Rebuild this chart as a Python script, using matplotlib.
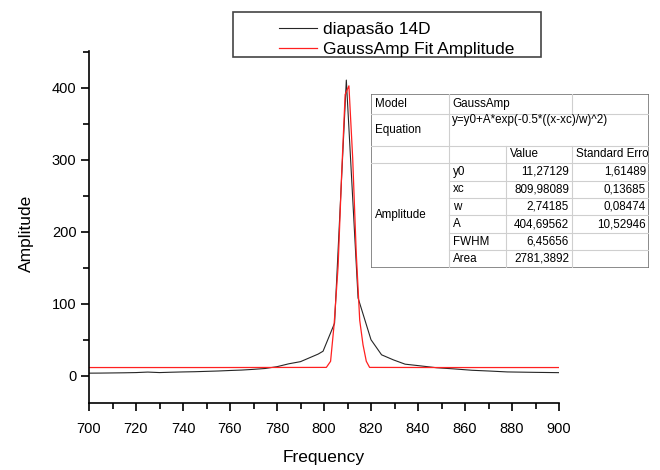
import matplotlib
matplotlib.use("Agg")
import matplotlib.pyplot as plt
from matplotlib.patches import Rectangle
from matplotlib.ticker import MultipleLocator

plt.rcParams['font.family'] = ['Liberation Sans', 'DejaVu Sans']

# Measured data (diapasão 14D)
freq = [700, 705, 710, 715, 720, 725, 730, 735, 740, 745, 750, 755, 760, 765,
        770, 775, 780, 785, 790, 797.5, 799.6, 804.5, 809.5, 814.5, 820, 824.5,
        829.5, 834.5, 840, 848, 855, 863, 870, 878, 890, 900]
amp = [3.5, 3.6, 3.8, 4.0, 4.3, 5.0, 4.3, 4.8, 5.2, 5.5, 6.0, 6.5, 7.2, 7.8,
       8.8, 10.0, 12.5, 16.5, 19.5, 30, 34, 73, 411, 108, 50, 29,
       22, 16, 14, 11, 9.5, 7.5, 6.5, 5.2, 4.6, 4.2]

# GaussAmp fit curve
fit_x = [700, 750, 801, 802.8, 804.3, 806, 807.5, 809, 810.6, 812.2, 813.7,
         815.2, 816.6, 818, 819.4, 850, 900]
fit_y = [11.3, 11.3, 11.5, 20, 71, 152, 280, 391, 403, 303, 172,
         77, 43, 20, 11.5, 11.3, 11.3]

labels = ['diapasão 14D', 'GaussAmp Fit Amplitude']

# Fit result table
param_names = ['y0', 'xc', 'w', 'A', 'FWHM', 'Area']
param_values = ['11,27129', '809,98089', '2,74185', '404,69562', '6,45656', '2781,3892']
param_errors = ['1,61489', '0,13685', '0,08474', '10,52946', '', '']
model_name = 'GaussAmp'
equation = 'y=y0+A*exp(-0.5*((x-xc)/w)^2)'

W, H = 660, 470
fig = plt.figure(figsize=(6.6, 4.7), dpi=100)
ax = fig.add_axes([89 / W, 1 - 403 / H, 470 / W, (403 - 50.6) / H])

ax.plot(freq, amp, color='#262626', lw=0.8)
ax.plot(fit_x, fit_y, color='#ff2020', lw=0.9)

ax.set_xlim(700, 900)
ax.set_ylim(-38, 452)
ax.xaxis.set_major_locator(MultipleLocator(20))
ax.xaxis.set_minor_locator(MultipleLocator(10))
ax.yaxis.set_major_locator(MultipleLocator(100))
ax.yaxis.set_minor_locator(MultipleLocator(50))
for s in ['top', 'right']:
    ax.spines[s].set_visible(False)
for s in ['left', 'bottom']:
    ax.spines[s].set_linewidth(1.2)
ax.tick_params(which='major', direction='out', length=6, width=1.2, labelsize=10.5)
ax.tick_params(which='minor', direction='out', length=4, width=1.2)
ax.tick_params(axis='x', pad=8)
ax.tick_params(axis='y', pad=3)

ax.set_xlabel('Frequency', fontsize=12.5, va='top')
ax.set_ylabel('Amplitude', fontsize=12.5)
ax.xaxis.set_label_coords(0.5, -0.133)
ax.yaxis.set_label_coords(-0.118, 0.48)

# Legend
fig.patches.append(Rectangle((233 / W, 1 - 57 / H), 308 / W, 45 / H,
                             transform=fig.transFigure, fill=False,
                             edgecolor='#444444', lw=1.2))
lines = ax.get_lines()
fig.legend(lines, labels, loc='upper left', bbox_to_anchor=(279 / W, 1 - 22 / H),
           frameon=False, fontsize=12.5, handlelength=2.2, handletextpad=0.35,
           borderpad=0, borderaxespad=0, labelspacing=0.26)

# Table drawn in pixel coordinates of its own axes
tl, tt, tr, tb = 371, 94.3, 649, 267.7
tax = fig.add_axes([tl / W, 1 - tb / H, (tr - tl) / W, (tb - tt) / H])
tax.set_xlim(tl, tr)
tax.set_ylim(tb, tt)
tax.axis('off')
tax.add_patch(Rectangle((tl, tt), tr - tl, tb - tt, facecolor='white',
                        edgecolor='#777777', lw=1.2, zorder=3))
c1, c2, c3 = 449, 506, 572
r_model, r_eq, r_head = 114.3, 145.7, 163.3
row_h = (tb - r_head) / len(param_names)
light = '#cfcfcf'
tax.plot([tl, tr], [r_model, r_model], color=light, lw=0.8, zorder=4)
tax.plot([tl, tr], [r_eq, r_eq], color=light, lw=0.8, zorder=4)
tax.plot([tl, tr], [r_head, r_head], color=light, lw=0.8, zorder=4)
for i in range(1, len(param_names)):
    y = r_head + i * row_h
    tax.plot([c1, tr], [y, y], color=light, lw=0.8, zorder=4)
tax.plot([c1, c1], [tt, tb], color=light, lw=0.8, zorder=4)
tax.plot([c3, c3], [tt, r_model], color=light, lw=0.8, zorder=4)
tax.plot([c2, c2], [r_eq, tb], color=light, lw=0.8, zorder=4)
tax.plot([c3, c3], [r_eq, tb], color=light, lw=0.8, zorder=4)

fs = 8.4
kw = dict(fontsize=fs, zorder=5, va='center')
tax.text(tl + 4, (tt + r_model) / 2, 'Model', ha='left', **kw)
tax.text(c1 + 3, (tt + r_model) / 2, model_name, ha='left', **kw)
tax.text(tl + 4, (r_model + r_eq) / 2, 'Equation', ha='left', **kw)
tax.text(c1 + 3, r_model + 6, equation, ha='left', **kw)
tax.text(c2 + 4, (r_eq + r_head) / 2, 'Value', ha='left', **kw)
tax.text(c3 + 4, (r_eq + r_head) / 2, 'Standard Erro', ha='left', **kw)
tax.text(tl + 4, (r_head + tb) / 2, 'Amplitude', ha='left', **kw)
for i, (n, v, e) in enumerate(zip(param_names, param_values, param_errors)):
    yc = r_head + (i + 0.5) * row_h
    tax.text(c1 + 4, yc, n, ha='left', **kw)
    tax.text(c3 - 3, yc, v, ha='right', **kw)
    if e:
        tax.text(tr - 3, yc, e, ha='right', **kw)

fig.savefig('out.png', dpi=100)
